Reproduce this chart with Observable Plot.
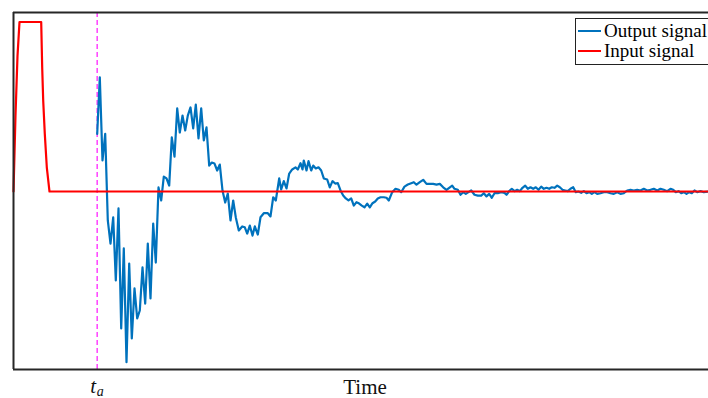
<!DOCTYPE html>
<html>
<head>
<meta charset="utf-8">
<script src="https://cdn.jsdelivr.net/npm/d3@7"></script>
<script src="https://cdn.jsdelivr.net/npm/@observablehq/plot@0.6"></script>
<style>
  html, body { margin: 0; padding: 0; background: #fff; overflow: hidden; }
  #wrap { position: relative; width: 708px; height: 398px; }
  #legend {
    position: absolute; left: 575px; top: 18px; width: 150px;
    border: 1.6px solid #222; background: #fff;
    font-family: "Liberation Serif", "Times New Roman", serif; font-size: 19px;
    line-height: 20px; padding: 2px 0 3px 2px; box-sizing: border-box;
  }
  #legend .item { display: flex; align-items: center; white-space: nowrap; }
  #legend .sw { width: 23px; height: 2px; margin-right: 3px; }
</style>
</head>
<body>
<div id="wrap"></div>
<script>
// ---------- data ----------
const inputTime  = [0, 2, 4, 6, 27.7, 28.7, 29.7, 31.3, 33.3, 36, 695];
const inputValue = [0, 45, 80, 100, 100, 73, 53.7, 34, 14.3, 0, 0];

const outputTime = [83.7,86.3,89,91.7,94.3,97,99.7,102.3,105,107.7,110.3,113,115.7,118.3,121,123.7,126.3,129,131.7,134.3,137,139.7,142.3,145,147.7,150.3,153,155.7,158.3,161,163.7,166.3,169,171.7,174.3,177,179.7,182.3,185,187.7,190.3,193,195.7,198.3,201,203.7,206.3,209,211.7,214.3,217,219.7,222.3,225.3,228.7,231.3,233.7,236.3,239,241.3,244.3,247,250.3,254.3,257,259.7,262.3,265.7,267.7,270.3,273,275.7,278.7,282,284.3,287,289,290.3,293,295,297.7,299.7,302.3,305,307.7,310.3,313.7,316.3,319,321.7,324.3,327,329.7,332.3,335,337.7,340.3,343,345.7,348.3,351,353.7,356.3,359,361.7,364.3,367,370.3,373,375.3,378.7,382,385.3,387.7,391,394.3,397.7,400.3,403,406.3,409.7,413,416.3,419.7,423,426.3,429.7,433,435.7,438.7,441,444.3,447,449.7,452.3,455,457.7,461,464.3,467.7,470.3,473,475.7,478.3,481,484.3,487.7,491,493,495.7,498.3,501,503.7,506.3,509,511.7,514.3,517,519.7,522.3,525,527.7,530.3,533,535.7,538.3,541,543.7,546.3,549,551.7,554.3,557,559.7,562.3,565,567.7,570.3,573,575.7,578.3,581,583.7,587,590.3,593.7,597,600.3,603.7,607,610.3,613.7,617,620.3,623.7,627,630.3,633.7,637,640.3,643.7,647,650.3,653.7,657,659.7,662.3,665,667.7,670.3,673,675.7,678.3,681,683.7,687,690.3,695];
const outputValue = [34.0,67.4,18.3,34.0,-17.1,-30.7,-15.2,-52.5,-10.0,-80.8,-33.6,-100.7,-42.5,-86.7,-57.2,-74.9,-70.2,-44.8,-66.1,-30.7,-63.1,-18.9,-41.9,2.4,-5.3,8.8,7.7,3.5,31.9,20.6,49.0,34.8,44.8,36.0,44.8,49.6,37.2,51.3,31.3,49.0,30.1,37.8,15.3,17.1,16.5,12.4,15.9,0.6,-6.5,-1.2,-17.1,-5.3,-15.3,-23.0,-20.6,-21.1,-24.8,-20.1,-26.0,-20.6,-25.4,-15.2,-12.8,-12.8,-14.7,-3.4,-5.3,7.7,1.2,6.1,1.8,10.6,13.0,14.2,13.0,16.7,13.0,18.3,12.4,17.9,12.4,15.3,13.6,14.3,12.4,7.7,7.1,2.4,6.1,4.7,4.9,0.6,-2.4,-4.1,-5.3,-4.1,-8.3,-6.3,-7.1,-8.3,-9.3,-7.1,-9.3,-6.9,-5.9,-4.1,-3.4,-3.4,-3.7,-5.3,-0.4,1.6,1.0,-0.4,2.9,4.1,4.9,5.5,4.0,5.5,6.9,4.5,4.5,4.5,4.1,4.5,2.5,1.0,2.2,3.5,1.6,1.0,-1.9,-0.4,-1.4,-0.4,0.6,-1.9,-2.4,-2.4,-1.0,-2.9,-1.4,-3.7,-1.0,-1.0,-0.4,-0.8,-1.9,0.2,1.6,0.2,1.0,0.2,2.2,3.5,1.6,2.5,1.6,2.5,1.0,2.9,1.6,2.2,1.6,2.5,2.2,3.5,2.5,1.0,0.6,0.2,1.6,2.5,-0.4,0,-0.8,0.2,-1.0,-0.4,-1.4,-0.4,-1.4,-1.0,-0.4,-0.4,-1.0,-1.4,-0.4,-1.4,-1.0,0.6,1.0,0.6,1.0,0.6,1.6,0.6,1.0,1.6,0.6,1.6,1.0,0.2,1.6,1.0,-0.4,0.2,-1.0,-0.4,-1.4,-0.4,-1.0,0.6,-0.4,0.2,-0.4,0];

const tA = 83.7;               // activation time t_a
const timeDomain = [0, 695];
const valueDomain = [-105, 105.6];
const seriesNames = ["Output signal", "Input signal"];
const seriesColors = ["#0072BD", "#FF0000"];

// ---------- build ----------
const input = inputTime.map((t, i) => ({t, v: inputValue[i]}));
const output = outputTime.map((t, i) => ({t, v: outputValue[i]}));
const serif = "Liberation Serif, Times New Roman, serif";

const chart = Plot.plot({
  width: 708, height: 398,
  marginLeft: 13, marginRight: 0, marginTop: 12, marginBottom: 29,
  x: {domain: timeDomain, axis: null},
  y: {domain: valueDomain, axis: null},
  style: {fontFamily: serif, background: "#fff"},
  marks: [
    Plot.ruleX([tA], {stroke: "#ff4dff", strokeWidth: 1.6, strokeDasharray: "5,3"}),
    Plot.line(output, {x: "t", y: "v", stroke: seriesColors[0], strokeWidth: 2.2}),
    Plot.line(input, {x: "t", y: "v", stroke: seriesColors[1], strokeWidth: 2.2}),
    Plot.ruleY([valueDomain[1]], {stroke: "#262626", strokeWidth: 2}),
    Plot.ruleY([valueDomain[0]], {stroke: "#262626", strokeWidth: 2}),
    Plot.ruleX([timeDomain[0]], {stroke: "#262626", strokeWidth: 2}),
    Plot.text(["Time"], {frameAnchor: "bottom", dx: 4, dy: 18, fontSize: 21, fill: "#111", lineAnchor: "middle"}),
    Plot.text(["t"], {x: () => tA, frameAnchor: "bottom", dx: -4, dy: 17, fontSize: 21, fontStyle: "italic", fill: "#111", lineAnchor: "middle"}),
    Plot.text(["a"], {x: () => tA, frameAnchor: "bottom", dx: 3, dy: 22, fontSize: 14, fontStyle: "italic", fill: "#111", lineAnchor: "middle"})
  ]
});

const wrap = document.getElementById("wrap");
wrap.appendChild(chart);
const leg = document.createElement("div");
leg.id = "legend";
seriesNames.forEach((name, i) => {
  const it = document.createElement("div");
  it.className = "item";
  const sw = document.createElement("span");
  sw.className = "sw"; sw.style.background = seriesColors[i];
  const lb = document.createElement("span");
  lb.textContent = name;
  it.appendChild(sw); it.appendChild(lb);
  leg.appendChild(it);
});
wrap.appendChild(leg);
</script>
</body>
</html>
